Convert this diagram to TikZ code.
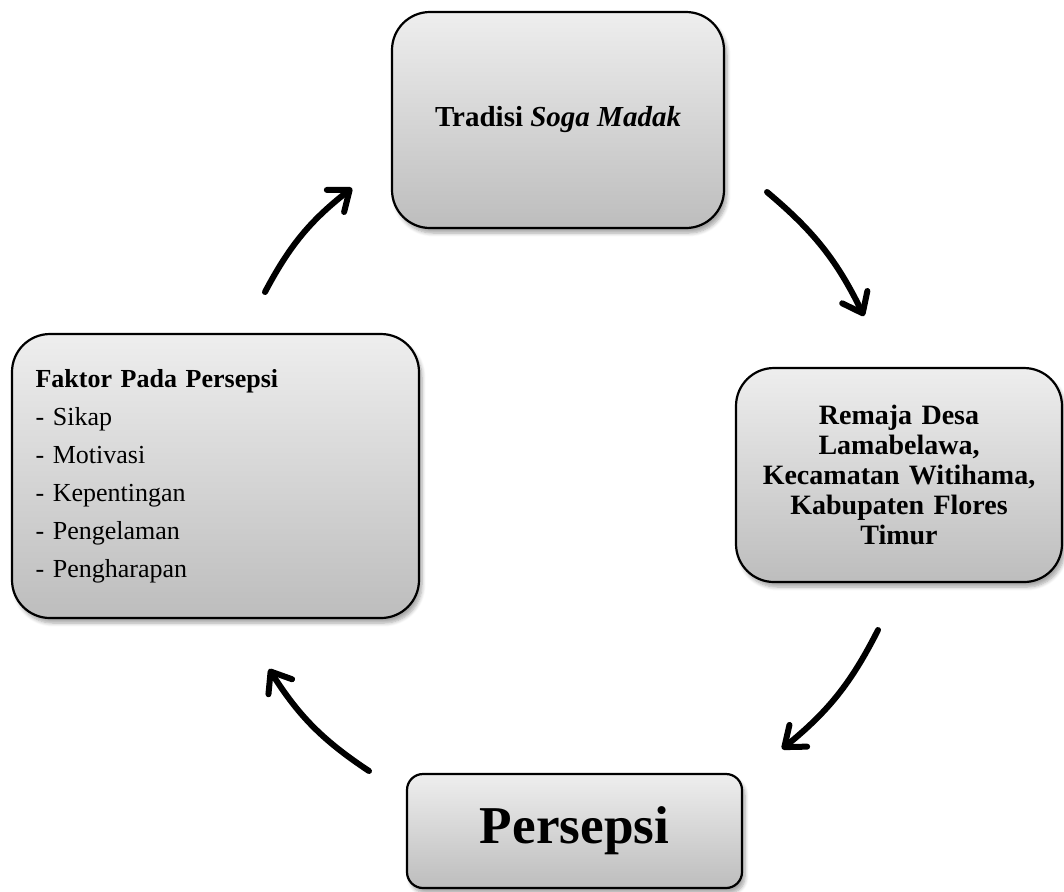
\documentclass[tikz,border=0pt]{standalone}
\usepackage{fontspec}
\setmainfont{Liberation Serif}
\usetikzlibrary{arrows.meta,shadows,shadows.blur}
\definecolor{boxtop}{HTML}{EEEEEE}
\definecolor{boxbot}{HTML}{BDBDBD}
\begin{document}
\begin{tikzpicture}[x=0.5pt,y=-0.5pt,
  card/.style={draw=black,line width=1.1pt,rounded corners=19pt,
    top color=boxtop,bottom color=boxbot,
    blur shadow={shadow xshift=1.5pt,shadow yshift=-2.5pt,shadow blur steps=6,shadow opacity=35},
    align=center,inner sep=4pt},
  cyc/.style={line width=3pt,line cap=round,
    -{Straight Barb[length=9pt,width=14pt,line width=3pt,round]}}
]
\useasboundingbox (0,0) rectangle (1064,891);
\node[card,minimum width=166pt,minimum height=108pt,
  font={\fontsize{14.5}{17}\selectfont\bfseries}] (tradisi) at (558,120)
  {Tradisi \textit{Soga Madak}};
\node[card,minimum width=163pt,minimum height=107pt,text width=150pt,
  font={\fontsize{14}{15}\selectfont\bfseries}] (remaja) at (899,475)
  {Remaja Desa\\Lamabelawa,\\Kecamatan Witihama,\\Kabupaten Flores\\Timur};
\node[card,minimum width=203.5pt,minimum height=142pt,text width=180pt,
  align=left,inner xsep=11.5pt,
  font={\fontsize{13}{19}\selectfont}] (faktor) at (215.5,476)
  {\textbf{Faktor Pada Persepsi}\\- Sikap\\- Motivasi\\- Kepentingan\\- Pengelaman\\- Pengharapan};
\node[card,rounded corners=8pt,minimum width=167.5pt,minimum height=57pt,
  font={\fontsize{26.6}{30}\selectfont\bfseries}] (persepsi) at (574.5,831)
  {Persepsi};
\coordinate (a1s) at (265,292);
\coordinate (a1e) at (352,188);
\coordinate (a2s) at (767,192);
\coordinate (a2e) at (864,316);
\coordinate (a3s) at (878,630);
\coordinate (a3e) at (782,749);
\coordinate (a4s) at (369,771);
\coordinate (a4e) at (269,669);
\draw[cyc] (a1s) to[bend left=12] (a1e);
\draw[cyc] (a2s) to[bend left=12] (a2e);
\draw[cyc] (a3s) to[bend left=12] (a3e);
\draw[cyc] (a4s) to[bend left=12] (a4e);
\end{tikzpicture}
\end{document}
